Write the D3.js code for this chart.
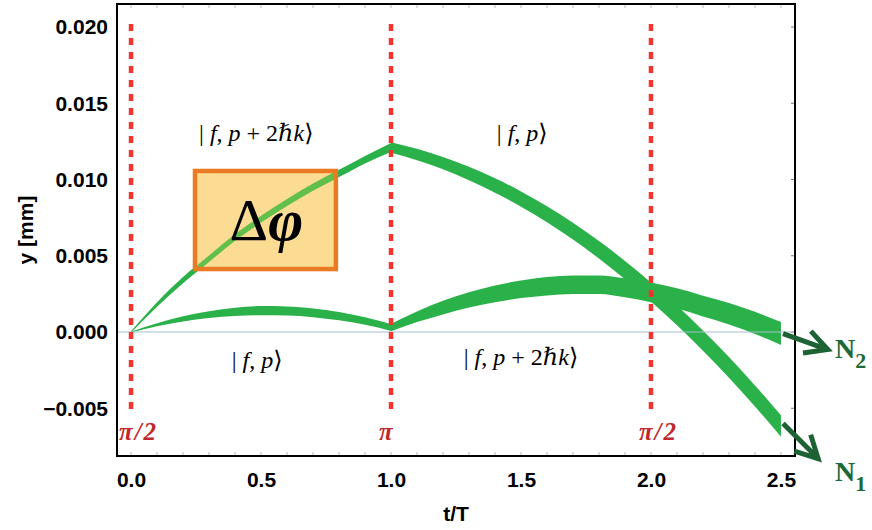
<!DOCTYPE html>
<html><head><meta charset="utf-8">
<script src="https://cdn.jsdelivr.net/npm/d3@7"></script>
<style>html,body{margin:0;padding:0;background:#fff;} svg{display:block;}</style>
</head><body><svg id="c" width="872" height="530"></svg>
<script>
// ---------- data ----------
const xTicks = [0, 0.5, 1, 1.5, 2, 2.5];
const xTickLabels = ["0.0", "0.5", "1.0", "1.5", "2.0", "2.5"];
const yTicks = [-0.005, 0, 0.005, 0.010, 0.015, 0.020];
const yTickLabels = ["\u22120.005", "0.000", "0.005", "0.010", "0.015", "0.020"];

// time samples of the two halves of the interferometer
const tFirst = [0, 0.1, 0.2, 0.3, 0.4, 0.5, 0.6, 0.7, 0.8, 0.9, 1.0];
const tSecond = [1.0, 1.1, 1.2, 1.3, 1.4, 1.5, 1.6, 1.7, 1.8, 1.9, 2.0, 2.1, 2.2, 2.3, 2.4, 2.5];

// upper arm (|f,p+2hk> then |f,p>) -> exits to N1
const upperFirst = [0, 0.0018, 0.0034, 0.0048, 0.0062, 0.0074, 0.0085, 0.0095, 0.0104, 0.0113, 0.0121];
const upperFirstSpread = [0.0001, 0.0003, 0.0004, 0.00042, 0.00044, 0.00045, 0.00046, 0.00047, 0.00048, 0.0005, 0.0006];
const upperSecond = [0.0121, 0.01164, 0.01107, 0.01039, 0.00961, 0.00872, 0.00772, 0.00661, 0.00539, 0.00406, 0.00263, 0.00109, -0.00056, -0.00232, -0.00419, -0.00616];
const upperSecondSpread = [0.0007, 0.00075, 0.0008, 0.00088, 0.00095, 0.001, 0.00105, 0.0011, 0.00115, 0.0012, 0.00125, 0.0013, 0.00132, 0.00135, 0.00138, 0.0014];

// lower arm (|f,p> then |f,p+2hk>) -> exits to N2
const lowerFirst = [0, 0.00048, 0.00086, 0.00114, 0.00132, 0.0014, 0.00138, 0.00126, 0.00104, 0.00072, 0.0003];
const lowerFirstSpread = [0.00005, 0.0002, 0.00035, 0.00045, 0.00055, 0.0006, 0.0006, 0.00058, 0.00055, 0.0005, 0.00045];
const lowerSecond = [0.0003, 0.0010, 0.0016, 0.0021, 0.0025, 0.0028, 0.0030, 0.0031, 0.0031, 0.0029, 0.0026, 0.0022, 0.0017, 0.0012, 0.0006, -0.0001];
const lowerSecondSpread = [0.0005, 0.0007, 0.0009, 0.001, 0.0011, 0.00115, 0.0012, 0.0012, 0.00122, 0.00125, 0.0013, 0.00133, 0.00137, 0.0014, 0.00145, 0.0015];

// laser pulses
const pulseTimes = [0, 1, 2];
const pulseLabels = ["\u03c0/2", "\u03c0", "\u03c0/2"];
const pulseExtent = [0.0202, -0.0051];
const pulseLabelY = -0.0071;

// state labels
const stateKinds = ["p2k", "p", "p", "p2k"];
const stateT = [0.482, 1.505, 0.485, 1.5];
const stateY = [0.01305, 0.01305, -0.00184, -0.00164];

// phase box (t range, y range)
const boxT = [0.246, 0.788];
const boxY = [0.00413, 0.01056];
const boxText = ["\u0394", "\u03c6"];

// output ports
const portNames = ["N", "N"];
const portSubs = ["2", "1"];
const arrowFrom = [[2.508, -0.0001], [2.508, -0.0060]];
const arrowTo = [[2.68, -0.00115], [2.643, -0.0083]];
const portLabelT = [2.708, 2.708];
const portLabelY = [-0.0017, -0.0098];

// ---------- drawing ----------
const svg = d3.select("#c");
const L = 117, R = 795, T = 4, B = 456;
const x = d3.scaleLinear().domain([-0.054, 2.554]).range([L, R]);
const y = d3.scaleLinear().domain([-0.00813, 0.02151]).range([B, T]);

const green = "#2bb14a", lightGreen = "#63bf4c", red = "#f4352f", darkRed = "#c1272d", dark = "#1c6234";
const sans = "'Liberation Sans', Arial, Helvetica, sans-serif";
const serif = "'Liberation Serif', 'DejaVu Serif', serif";

// minor ticks on top / bottom, major ticks on right
const minor = d3.range(0, 2.5001, 0.1);
svg.append("g").selectAll("line").data(minor).join("line")
  .attr("x1", d => x(d)).attr("x2", d => x(d)).attr("y1", T + 1).attr("y2", T + 4)
  .attr("stroke", "#b8b8b8").attr("stroke-width", 1);
svg.append("g").selectAll("line").data(minor).join("line")
  .attr("x1", d => x(d)).attr("x2", d => x(d)).attr("y1", B - 1).attr("y2", B - 4)
  .attr("stroke", "#b8b8b8").attr("stroke-width", 1);
svg.append("g").selectAll("line").data(yTicks).join("line")
  .attr("x1", R - 1).attr("x2", R - 4).attr("y1", d => y(d)).attr("y2", d => y(d))
  .attr("stroke", "#777").attr("stroke-width", 1);

// bands
function band(ts, vs, ss) {
  const pts = ts.map((t, i) => ({ t, v: vs[i], s: ss[i] }));
  return d3.area().x(d => x(d.t)).y0(d => y(d.v - d.s / 2)).y1(d => y(d.v + d.s / 2))
    .curve(d3.curveMonotoneX)(pts);
}
const bands = svg.append("g");
bands.append("path").attr("d", band(tFirst, lowerFirst, lowerFirstSpread)).attr("fill", green);
bands.append("path").attr("d", band(tSecond, lowerSecond, lowerSecondSpread)).attr("fill", green);
bands.append("path").attr("d", band(tFirst, upperFirst, upperFirstSpread)).attr("fill", green);
bands.append("path").attr("d", band(tSecond, upperSecond, upperSecondSpread)).attr("fill", green);

// zero line
svg.append("line").attr("x1", L).attr("x2", R).attr("y1", y(0)).attr("y2", y(0))
  .attr("stroke", "#a5bdd2").attr("stroke-width", 1);

// pulses
svg.append("g").selectAll("line").data(pulseTimes).join("line")
  .attr("x1", d => x(d)).attr("x2", d => x(d))
  .attr("y1", y(pulseExtent[0])).attr("y2", y(pulseExtent[1]))
  .attr("stroke", red).attr("stroke-width", 4.5).attr("stroke-dasharray", "7,7");
svg.append("g").selectAll("text").data(pulseTimes).join("text")
  .attr("x", d => x(d) - 12).attr("y", y(pulseLabelY))
  .attr("font-family", serif).attr("font-weight", "bold").attr("font-style", "italic")
  .attr("font-size", 25).attr("fill", darkRed).attr("letter-spacing", 2)
  .text((d, i) => pulseLabels[i]);

// phase box
const bx = x(boxT[0]), bw = x(boxT[1]) - x(boxT[0]);
const by = y(boxY[1]), bh = y(boxY[0]) - y(boxY[1]);
svg.append("defs").append("clipPath").attr("id", "boxclip")
  .append("rect").attr("x", bx).attr("y", by).attr("width", bw).attr("height", bh);
svg.append("rect").attr("x", bx).attr("y", by).attr("width", bw).attr("height", bh).attr("fill", "#fcdb93");
svg.append("path").attr("d", band(tFirst, upperFirst, upperFirstSpread))
  .attr("fill", lightGreen).attr("clip-path", "url(#boxclip)");
svg.append("rect").attr("x", bx).attr("y", by).attr("width", bw).attr("height", bh)
  .attr("fill", "none").attr("stroke", "#ea7a24").attr("stroke-width", 4.5);
const bt = svg.append("text").attr("x", bx + bw / 2 + 1).attr("y", by + bh / 2 + 20)
  .attr("text-anchor", "middle").attr("font-family", serif).attr("font-size", 60).attr("fill", "#000");
bt.append("tspan").text(boxText[0]);
bt.append("tspan").attr("font-weight", "bold").attr("font-style", "italic").text(boxText[1]);

// state labels
const parts = {
  p2k: [["| ", 0], ["f", 1], [", ", 0], ["p", 1], [" + 2", 0], ["\u210f", 1], ["k", 1], ["\u27e9", 0]],
  p: [["| ", 0], ["f", 1], [", ", 0], ["p", 1], ["\u27e9", 0]]
};
stateKinds.forEach((k, i) => {
  const t = svg.append("text").attr("x", x(stateT[i])).attr("y", y(stateY[i]) + 8)
    .attr("text-anchor", "middle").attr("font-family", serif).attr("font-size", 24)
    .attr("fill", "#000").style("white-space", "pre");
  parts[k].forEach(p => t.append("tspan").attr("font-style", p[1] ? "italic" : "normal").text(p[0]));
});

// frame
svg.append("rect").attr("x", L).attr("y", T).attr("width", R - L).attr("height", B - T)
  .attr("fill", "none").attr("stroke", "#000").attr("stroke-width", 2);

// axes labels
const xa = svg.append("g").attr("transform", `translate(0,${B})`)
  .call(d3.axisBottom(x).tickValues(xTicks).tickFormat((d, i) => xTickLabels[i]).tickSize(0).tickPadding(16));
const ya = svg.append("g").attr("transform", `translate(${L},0)`)
  .call(d3.axisLeft(y).tickValues(yTicks).tickFormat((d, i) => yTickLabels[i]).tickSize(0).tickPadding(9));
[xa, ya].forEach(a => {
  a.select(".domain").remove();
  a.selectAll("text").attr("font-family", sans).attr("font-weight", "bold").attr("font-size", 21).attr("fill", "#000");
});
svg.append("text").attr("x", (L + R) / 2).attr("y", 521).attr("text-anchor", "middle")
  .attr("font-family", sans).attr("font-weight", "bold").attr("font-size", 21).text("t/T");
svg.append("text").attr("transform", `translate(33,${(T + B) / 2}) rotate(-90)`).attr("text-anchor", "middle")
  .attr("font-family", sans).attr("font-weight", "bold").attr("font-size", 21).text("y [mm]");

// output arrows
arrowFrom.forEach((f, i) => {
  const x0 = x(f[0]), y0 = y(f[1]), x1 = x(arrowTo[i][0]), y1 = y(arrowTo[i][1]);
  const ang = Math.atan2(y1 - y0, x1 - x0), len = 25, spread = Math.PI / 6.5;
  const a1 = [x1 - len * Math.cos(ang - spread), y1 - len * Math.sin(ang - spread)];
  const a2 = [x1 - len * Math.cos(ang + spread), y1 - len * Math.sin(ang + spread)];
  const p = d3.path();
  p.moveTo(x0, y0); p.lineTo(x1, y1);
  p.moveTo(a1[0], a1[1]); p.lineTo(x1, y1); p.lineTo(a2[0], a2[1]);
  svg.append("path").attr("d", p.toString()).attr("fill", "none").attr("stroke", dark)
    .attr("stroke-width", 5).attr("stroke-linejoin", "miter");
  const lt = svg.append("text").attr("x", x(portLabelT[i])).attr("y", y(portLabelY[i]))
    .attr("font-family", serif).attr("font-weight", "bold").attr("font-size", 28).attr("fill", "#1d6a38");
  lt.append("tspan").text(portNames[i]);
  lt.append("tspan").attr("font-size", 22).attr("dy", 10).text(portSubs[i]);
});
</script></body></html>
